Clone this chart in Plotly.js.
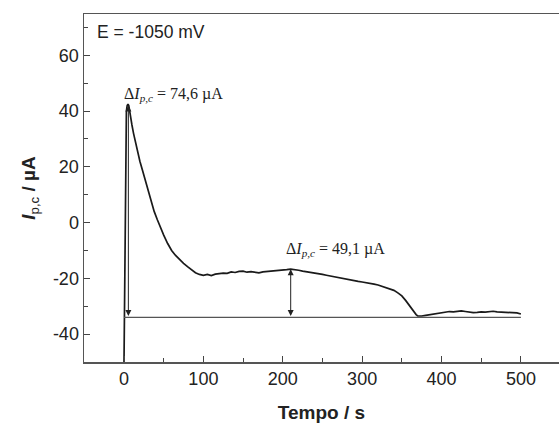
<!DOCTYPE html>
<html>
<head>
<meta charset="utf-8">
<script src="https://cdn.plot.ly/plotly-3.0.1.min.js"></script>
<style>html,body{margin:0;padding:0;background:#fff;}#chart{width:559px;height:424px;}</style>
</head>
<body>
<div id="chart"></div>
<script>
const time = [0,1,2,3,4,5,6,7,8,10,12,14,16,18,20,23,26,30,34,38,42,46,50,55,60,65,70,75,80,85,90,95,100,105,110,115,120,125,130,135,140,145,150,155,160,165,170,175,180,185,190,195,200,205,210,215,220,225,230,235,240,245,250,255,260,265,270,275,280,285,290,295,300,305,310,315,320,325,330,335,340,345,350,355,360,365,368,370,372,375,380,385,390,395,400,405,410,415,420,425,430,435,440,445,450,455,460,465,470,475,480,485,490,495,500];
const current = [-50,-10,30,40,42,42.5,42,40,38,35,32,29.5,26.5,24,22,19,16,11.5,7.5,4,1,-2,-4.5,-7.5,-10,-11.8,-13.3,-14.6,-15.8,-17,-18,-18.6,-18.9,-18.6,-19,-18.5,-18.3,-18.1,-18.2,-17.7,-17.9,-17.5,-17.4,-17.8,-17.6,-17.9,-18,-17.7,-17.6,-17.5,-17.3,-17.2,-17,-16.9,-16.7,-16.8,-17.1,-17.4,-17.6,-17.9,-18.1,-18.3,-18.6,-18.9,-19.2,-19.4,-19.8,-20.1,-20.3,-20.6,-20.8,-21.1,-21.3,-21.5,-21.9,-22.1,-22.4,-22.9,-23.4,-23.8,-24.3,-25.2,-26.3,-28,-30.1,-32,-33,-33.5,-33.6,-33.5,-33.3,-33.1,-32.9,-32.6,-32.3,-32.1,-31.9,-32,-31.8,-31.7,-31.9,-32.2,-32.3,-32.2,-32,-32.1,-31.9,-31.8,-32,-32.1,-32.2,-32.1,-32.3,-32.4,-32.8];

const baselineY = -34;
const baselineX = [0, 500];
const arrowTimes = [5.5, 210];
const arrowTops = [42, -16.7];
const deltaLabels = ['74,6', '49,1'];
const labelPos = [[-2.5, 45.9], [201.5, -9.8]];
const xTicks = [0,100,200,300,400,500];
const xTickText = ['0','100','200','300','400','500'];
const yTicks = [-40,-20,0,20,40,60];
const yTickText = ['-40','-20','0','20','40','60'];

const sans = 'Liberation Sans, Arial, sans-serif';
const serif = 'Liberation Serif, Times New Roman, serif';

const annotations = [];
for (let i = 0; i < arrowTimes.length; i++) {
  annotations.push({
    x: arrowTimes[i], y: arrowTops[i], xref: 'x', yref: 'y',
    ax: arrowTimes[i], ay: baselineY, axref: 'x', ayref: 'y',
    text: '', showarrow: true, arrowside: 'end+start',
    arrowhead: 2, arrowsize: 1.2, arrowwidth: 1, arrowcolor: '#222'
  });
  annotations.push({
    x: labelPos[i][0], y: labelPos[i][1], xref: 'x', yref: 'y',
    xanchor: 'left', yanchor: 'middle', showarrow: false,
    text: 'Δ<i>I</i><sub><i>p,c</i></sub> = ' + deltaLabels[i] + ' µA',
    font: {family: serif, size: 16, color: '#222'}
  });
}
annotations.push({
  x: -36.5, y: 68.2, xref: 'x', yref: 'y', xanchor: 'left', yanchor: 'middle',
  showarrow: false, text: 'E = -1050 mV',
  font: {family: sans, size: 17.5, color: '#222'}
});

const trace = {
  x: time, y: current, type: 'scatter', mode: 'lines',
  line: {color: '#1a1a1a', width: 1.7},
  hoverinfo: 'skip'
};

const layout = {
  width: 559, height: 424,
  margin: {l: 84, r: 0, t: 14, b: 62},
  paper_bgcolor: '#fff', plot_bgcolor: '#fff',
  showlegend: false,
  font: {family: sans, color: '#222'},
  xaxis: {
    range: [-50.4, 548], tickmode: 'array', tickvals: xTicks, ticktext: xTickText,
    ticks: 'inside', ticklen: 6, tickwidth: 1,
    tickcolor: '#444', showline: true, linecolor: '#555', linewidth: 1.5, mirror: true,
    showgrid: false, zeroline: false,
    minor: {dtick: 50, tick0: 50, ticks: 'inside', ticklen: 4, tickcolor: '#444', showgrid: false},
    tickfont: {family: sans, size: 18, color: '#222'},
    title: {text: '<b>Tempo / s</b>', font: {family: sans, size: 19, color: '#222'}, standoff: 17}
  },
  yaxis: {
    range: [-50, 74.8], tickmode: 'array', tickvals: yTicks, ticktext: yTickText,
    ticks: 'inside', ticklen: 6, tickwidth: 1,
    tickcolor: '#444', showline: true, linecolor: '#555', linewidth: 1.5, mirror: false,
    showgrid: false, zeroline: false,
    minor: {dtick: 20, tick0: -30, ticks: 'inside', ticklen: 4, tickcolor: '#444', showgrid: false},
    tickfont: {family: sans, size: 18, color: '#222'},
    title: {text: '<b><i>I</i></b><sub>p,c</sub><b> / µA</b>', font: {family: sans, size: 19, color: '#222'}, standoff: 12}
  },
  shapes: [{
    type: 'line', xref: 'x', yref: 'y', x0: baselineX[0], x1: baselineX[1], y0: baselineY, y1: baselineY,
    line: {color: '#555', width: 1.2}
  }],
  annotations: annotations
};

Plotly.newPlot('chart', [trace], layout, {displayModeBar: false, staticPlot: true});
</script>
</body>
</html>
